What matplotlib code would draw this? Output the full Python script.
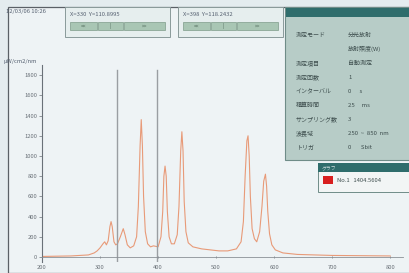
import matplotlib.pyplot as plt
from matplotlib.patches import Rectangle

plt.rcParams["font.family"] = ["Noto Sans CJK JP", "DejaVu Sans"]

# spectrum (nm, uW/cm2/nm)
wavelength = [200, 250, 280, 290, 295, 300, 305, 308, 311, 314, 317, 319, 321, 324,
              327, 330, 335, 340, 343, 347, 352, 358, 363, 366, 369, 371, 373, 375,
              378, 382, 387, 392, 400, 405, 408, 410, 412, 414, 416, 419, 423, 428,
              433, 436, 439, 441, 443, 445, 448, 452, 460, 475, 490, 505, 520, 535,
              543, 547, 550, 553, 555, 557, 559, 562, 566, 570, 575, 579, 582, 585,
              587, 589, 592, 596, 602, 615, 640, 700, 800]
intensity = [5, 10, 20, 40, 60, 90, 130, 150, 120, 160, 300, 350, 300, 150,
             120, 130, 200, 280, 220, 120, 90, 110, 200, 500, 1100, 1360, 1100, 600,
             250, 130, 100, 110, 100, 200, 450, 800, 900, 800, 450, 200, 130, 130,
             220, 500, 1050, 1240, 1050, 550, 250, 140, 100, 80, 70, 60, 60, 80,
             150, 350, 800, 1150, 1200, 1000, 600, 280, 180, 150, 250, 500, 750, 820,
             700, 450, 230, 120, 70, 40, 25, 15, 10]
cursor_x = [330, 398]
cursor_text = ["X=330  Y=110.8995", "X=398  Y=118.2432"]
x_ticks = [200, 300, 400, 500, 600, 700, 800]
y_ticks = [0, 200, 400, 600, 800, 1000, 1200, 1400, 1600, 1800]
settings = [("測定モード", "分光放射"), ("", "放射照度(W)"), ("測定項目", "自動測定"),
            ("測定回数", "1"), ("インターバル", "0      s"), ("積算時間", "25     ms"),
            ("サンプリング数", "3"), ("波長域", "250  ~  850  nm"), ("トリガ", "0       Sbit")]
legend_text = "No.1   1404.5604"

W, H = 410, 273
fig = plt.figure(figsize=(W / 100, H / 100), dpi=100, facecolor="#e4ecef")


def px(x0, y0, x1, y1):
    return [x0 / W, 1 - y1 / H, (x1 - x0) / W, (y1 - y0) / H]


def frect(x0, y0, x1, y1, fc, ec="none", lw=0.6, z=1):
    fig.patches.append(Rectangle((x0 / W, 1 - y1 / H), (x1 - x0) / W, (y1 - y0) / H,
                                 transform=fig.transFigure, fc=fc, ec=ec, lw=lw, zorder=z))


def ftext(x, y, s, size=4.5, color="#556070", **kw):
    fig.text(x / W, 1 - y / H, s, fontsize=size, color=color, va="center", **kw)


# window area (behind the plot)
frect(8, 7, 410, 273, "#eef3f5", ec="#5a6066", lw=0.9, z=-1)

# main plot
ax = fig.add_axes(px(42, 65, 403, 262))
ax.set_facecolor("none")
ax.plot(wavelength, intensity, color="#e89a78", lw=0.8)
for cx in cursor_x:
    ax.plot([cx, cx], [-50, 1850], color="#9a9ea2", lw=1.0)
ax.set_xlim(203.4, 822)
ax.set_ylim(-50, 1901)
for s in ["top", "right"]:
    ax.spines[s].set_visible(False)
ax.spines["bottom"].set_position(("data", 0))
ax.spines["left"].set_color("#6a7178")
ax.spines["bottom"].set_color("#8a9096")
ax.spines["left"].set_linewidth(0.8)
ax.spines["bottom"].set_linewidth(0.6)
ax.set_xticks(x_ticks)
ax.set_yticks(y_ticks)
ax.tick_params(axis="both", labelsize=4.2, colors="#6a7178", length=2, width=0.5, pad=1.5)
ax.tick_params(axis="x", direction="inout", pad=5)
ftext(4, 62, "μW/cm2/nm", size=4.2)

# date box
ftext(6, 12, "12/03/06 10:26", size=4.2)

# cursor panels
for i, x0 in enumerate([65, 178]):
    frect(x0, 7, x0 + 105, 37, "#e6eeee", ec="#8a9a9a", lw=0.7)
    ftext(x0 + 5, 14, cursor_text[i], size=4.2)
    for bx0, bx1, lab in [(x0 + 5, x0 + 32, "<<"), (x0 + 33, x0 + 58, "|"), (x0 + 59, x0 + 100, ">>")]:
        frect(bx0, 22, bx1, 30, "#a9c6b4", ec="#7f9c8a", lw=0.5, z=2)
        ftext((bx0 + bx1) / 2, 26, lab, size=3.5, color="#4f6a5a", ha="center")

# settings panel
frect(285, 7, 410, 160, "#b7ccc7", ec="#6f8c88", lw=0.8)
frect(286, 8, 410, 17, "#2f6d6c", z=2)
for i, (k, v) in enumerate(settings):
    y = 35 + i * 14.1
    ftext(296, y, k, size=4.3, color="#3d4d4d")
    ftext(348, y, v, size=4.3, color="#3d4d4d")

# legend box
frect(318, 163, 410, 192, "#f2f5f5", ec="#6f8c88", lw=0.7)
frect(318, 163, 410, 172, "#2f6d6c", z=2)
ftext(322, 167.5, "グラフ", size=3.5, color="#d0e0e0")
frect(323, 176, 333, 184, "#d81f1f", z=2)
ftext(337, 180, legend_text, size=4.2, color="#3d4d4d")

fig.savefig("out.png", dpi=100, facecolor=fig.get_facecolor())
